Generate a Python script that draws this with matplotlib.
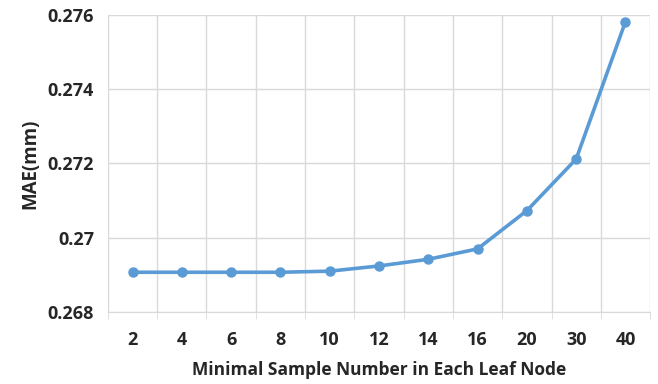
import numpy as np
import matplotlib
matplotlib.use('Agg')
import matplotlib.pyplot as plt
from matplotlib.ticker import FixedLocator, FuncFormatter

plt.rcParams['font.family'] = ['Open Sans', 'DejaVu Sans']

# minimal samples per leaf vs. MAE
leaf_sizes = ['2', '4', '6', '8', '10', '12', '14', '16', '20', '30', '40']
mae = [0.26907, 0.26907, 0.26907, 0.26907, 0.26910, 0.26924,
       0.26942, 0.26970, 0.27073, 0.27212, 0.27582]

C_LINE = '#5B9BD5'
C_GRID = '#D9D9D9'
C_TEXT = '#262626'

fig = plt.figure(figsize=(6.58, 3.84), dpi=100, facecolor='white')
ax = fig.add_axes([0.164, 0.1875, 0.824, 0.7735])

x = np.arange(len(leaf_sizes))
ax.plot(x, mae, color=C_LINE, lw=2.6, marker='o', ms=6.5, zorder=3)

ax.set_xlim(-0.5, len(leaf_sizes) - 0.5)
ax.set_ylim(0.268, 0.276)
ax.set_yticks([0.268, 0.270, 0.272, 0.274, 0.276])
ax.yaxis.set_major_formatter(FuncFormatter(lambda v, _: f'{v:g}'))
ax.set_xticks(x)
ax.set_xticklabels(leaf_sizes)
ax.xaxis.set_minor_locator(FixedLocator(np.arange(len(leaf_sizes) + 1) - 0.5))

# grid: category boundaries vertically, value ticks horizontally
ax.grid(which='minor', axis='x', color=C_GRID, lw=1.0)
ax.grid(which='major', axis='y', color=C_GRID, lw=1.0)
for s in ['top', 'right', 'left']:
    ax.spines[s].set_visible(False)
ax.spines['bottom'].set_color(C_GRID)
ax.tick_params(axis='x', which='major', length=0, pad=14,
               labelsize=13, labelcolor=C_TEXT)
ax.tick_params(axis='x', which='minor', length=5, color=C_GRID)
ax.tick_params(axis='y', length=0, pad=10, labelsize=13, labelcolor=C_TEXT)
for lbl in ax.get_xticklabels() + ax.get_yticklabels():
    lbl.set_fontweight('bold')

ax.set_xlabel('Minimal Sample Number in Each Leaf Node', fontsize=12.5,
              fontweight='bold', color=C_TEXT, labelpad=8)
ax.set_ylabel('MAE(mm)', fontsize=13.5, fontweight='bold', color=C_TEXT,
              labelpad=5)

fig.savefig('out.png', dpi=100, facecolor='white')
